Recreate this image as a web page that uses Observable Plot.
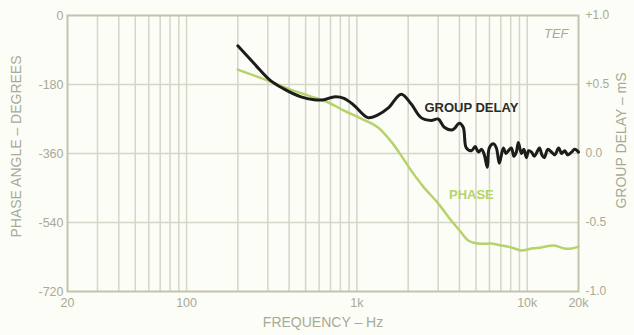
<!DOCTYPE html>
<html>
<head>
<meta charset="utf-8">
<script src="https://cdn.jsdelivr.net/npm/d3@7"></script>
<script src="https://cdn.jsdelivr.net/npm/@observablehq/plot@0.6"></script>
<style>
  html, body { margin: 0; padding: 0; background: #fcfdf7; }
</style>
</head>
<body>
<div id="chart"></div>
<script>
// Phase response (degrees)
const phaseFreq = [200,300,390,520,680,840,1060,1330,1590,1870,2080,2480,3000,3580,4100,4510,5160,6150,7050,8070,9250,10600,12100,14400,16500,18200,20000];
const phaseDeg  = [-141,-170,-190,-209,-227,-248,-269,-292,-329,-373,-404,-449,-490,-535,-566,-587,-595,-595,-600,-605,-613,-608,-605,-600,-608,-608,-603];

// Group delay (ms)
const gdFreq = [200,250,310,370,470,560,640,730,840,960,1160,1330,1530,1820,2080,2380,2730,3000,3260,3580,3730,3990,4210,4390,4700,4950,5160,5400,5600,5830,5990,6330,6590,6860,7240,7500,7750,8070,8350,8630,8870,9250,9550,9890,10200,10600,11000,11300,11800,12200,12600,13200,13900,14500,15300,15900,16600,17300,18200,19000,20000];
const gdMs   = [0.78,0.65,0.53,0.47,0.41,0.39,0.39,0.41,0.40,0.35,0.26,0.28,0.33,0.43,0.36,0.26,0.24,0.25,0.19,0.17,0.18,0.22,0.19,0.04,0.02,0.05,0.01,0.03,-0.01,-0.10,0.04,0.07,0.04,-0.07,0.04,0.0,0.02,0.04,-0.02,0.01,0.08,0.0,0.03,-0.03,0.02,0.01,-0.02,0.0,0.04,-0.01,-0.03,0.03,0.01,-0.01,0.04,0.0,0.02,-0.01,0.01,0.03,0.01];

// Axes
const xTicks = [20,100,1000,10000,20000];
const xTickLabels = ["20","100","1k","10k","20k"];
const gridFreqs = [30,40,50,60,70,80,90,100,200,300,400,500,600,700,800,900,1000,2000,3000,4000,5000,6000,7000,8000,9000,10000];
const phaseTicks = [0,-180,-360,-540,-720];
const phaseTickLabels = ["0","-180","-360","-540","-720"];
const gdTicks = [1.0,0.5,0.0,-0.5,-1.0];
const gdTickLabels = ["+1.0","+0.5","0.0","-0.5","-1.0"];

// Annotations
const curveNames = ["GROUP DELAY","PHASE"];
const curveLabelFreq = [4700,4700];
const curveLabelPhase = [-240,-467];

const gdToPhase = v => v * 360 - 360;

const phaseData = phaseFreq.map((f,i) => ({f, v: phaseDeg[i]}));
const gdData = gdFreq.map((f,i) => ({f, v: gdMs[i]}));
const labelData = curveNames.map((n,i) => ({n, f: curveLabelFreq[i], v: curveLabelPhase[i]}));

const textCol = "#a8aa96";
const gridCol = "#d4d6c7";
const frameCol = "#c2c4ae";
const greenCol = "#b5d36a";

const chart = Plot.plot({
  width: 634,
  height: 335,
  marginLeft: 67,
  marginRight: 56,
  marginTop: 15,
  marginBottom: 44,
  x: {type: "log", domain: [20, 20000]},
  y: {domain: [-720, 0]},
  style: {background: "#fcfdf7", fontFamily: "'Liberation Sans', Arial, sans-serif", fontSize: "12px", color: textCol},
  marks: [
    Plot.gridX(gridFreqs, {stroke: gridCol, strokeOpacity: 1, strokeWidth: 1.5}),
    Plot.gridY([-180, -360, -540], {stroke: gridCol, strokeOpacity: 1, strokeWidth: 1.5}),
    Plot.frame({stroke: frameCol, strokeWidth: 2}),
    Plot.axisX({ticks: xTicks, tickFormat: d => xTickLabels[xTicks.indexOf(d)], tickSize: 0, tickPadding: 7, label: null, fill: textCol, fontSize: 12.5}),
    Plot.axisY({ticks: phaseTicks, tickFormat: d => phaseTickLabels[phaseTicks.indexOf(d)], tickSize: 0, tickPadding: 4, label: null, fill: textCol, fontSize: 12.5}),
    Plot.axisY({anchor: "right", ticks: gdTicks.map(gdToPhase), tickFormat: d => gdTickLabels[gdTicks.map(gdToPhase).indexOf(d)], tickSize: 0, tickPadding: 7, label: null, fill: textCol, fontSize: 12}),
    Plot.line(phaseData, {x: "f", y: "v", stroke: greenCol, strokeWidth: 2.5, curve: "catmull-rom"}),
    Plot.line(gdData, {x: "f", y: d => gdToPhase(d.v), stroke: "#1c1c1a", strokeWidth: 3, curve: "catmull-rom"}),
    Plot.text(labelData, {x: "f", y: "v", text: "n", fill: (d, i) => i === 0 ? "#2a2a26" : greenCol, fontWeight: "bold", fontSize: 13}),
    Plot.text(["PHASE ANGLE – DEGREES"], {frameAnchor: "left", textAnchor: "middle", rotate: -90, dx: -51, dy: -7, fill: textCol, fontSize: 14}),
    Plot.text(["GROUP DELAY – mS"], {frameAnchor: "right", textAnchor: "middle", rotate: -90, dx: 43, dy: -13, fill: textCol, fontSize: 14}),
    Plot.text(["FREQUENCY – Hz"], {frameAnchor: "bottom", dy: 35, fill: textCol, fontSize: 14}),
    Plot.text(["TEF"], {frameAnchor: "top-right", dx: -10, dy: 13, textAnchor: "end", fill: textCol, fontSize: 13, fontStyle: "italic"})
  ]
});
document.getElementById("chart").appendChild(chart);
</script>
</body>
</html>
